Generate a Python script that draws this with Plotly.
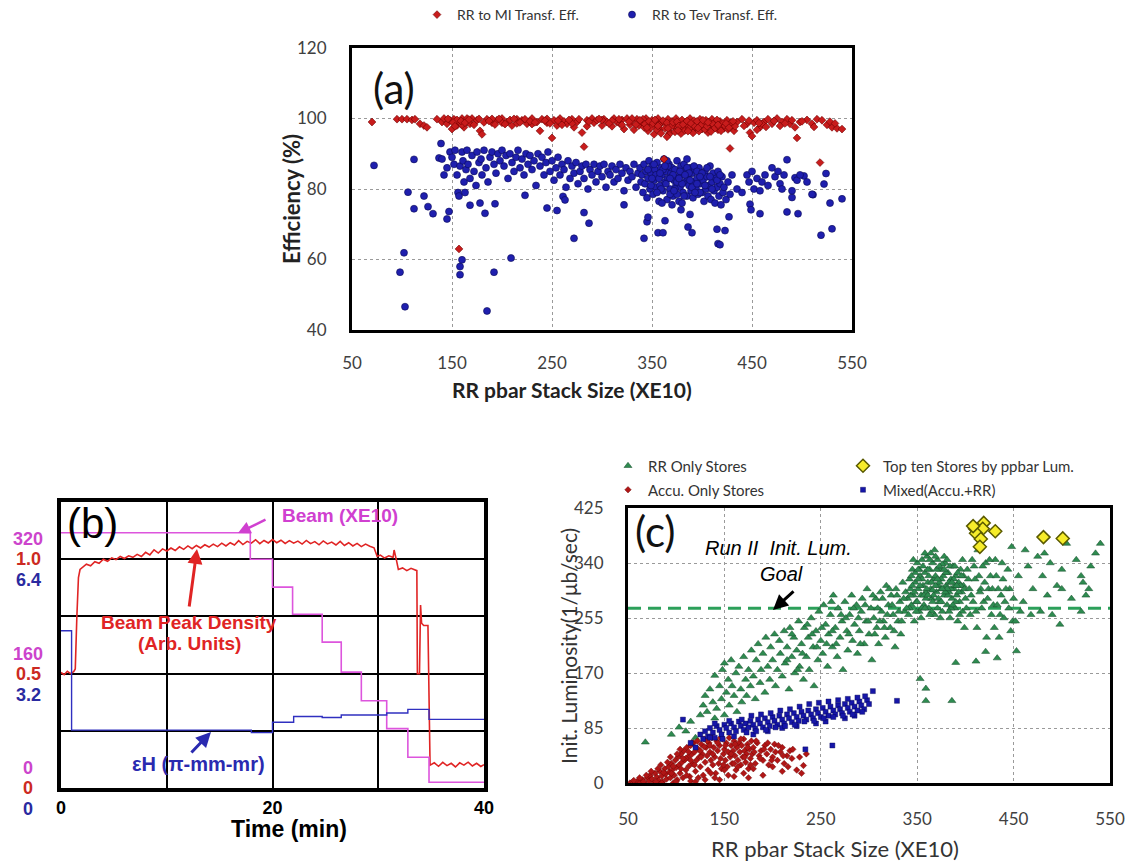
import plotly.graph_objects as go

# ---------------- Panel (a): transfer efficiencies vs RR stack size ----------------
mi_eff_pts = [
    (70, 99), (95, 99.8), (100, 99.8), (105, 99.8), (110, 99.6), (113, 99.8), (118, 98.5), (122, 98), (125, 97.5),
    (135, 99.8), (140, 99), (142, 100), (145, 98.5), (148, 99.5), (150, 97), (152, 99.8), (155, 98), (157, 99),
    (157, 63), (160, 100), (162, 97.5), (165, 99), (168, 98.5), (170, 100), (175, 99.5), (178, 96.5), (180, 95.5),
    (185, 99.8), (190, 98.8), (195, 99.5), (200, 100), (205, 99), (210, 98), (215, 99.8), (220, 99.5), (225, 98.5),
    (230, 100), (235, 99), (238, 96.5), (240, 99.8), (245, 98.8), (250, 94.5), (252, 99.5), (255, 98), (258, 100),
    (262, 99.2), (265, 98.5), (270, 99.8), (272, 97.5), (275, 99), (280, 96), (282, 92), (285, 99.5), (290, 100),
    (292, 98.8), (295, 99.5), (300, 98), (302, 99.8), (305, 99), (310, 97.8), (312, 100), (315, 99), (318, 98.5),
    (320, 99.6), (322, 97), (325, 100), (328, 98.2), (330, 99.4), (332, 96.8), (335, 99.8), (337, 98), (340, 99),
    (342, 97.5), (344, 100), (346, 96.5), (348, 98.8), (350, 99.5), (352, 95.5), (354, 98), (356, 100), (358, 97),
    (360, 99), (362, 88.5), (364, 98.5), (366, 99.8), (368, 96), (370, 99.2), (372, 97.8), (374, 100), (376, 98.5),
    (378, 96.8), (380, 99.6), (382, 97.2), (384, 99), (386, 98), (388, 100), (390, 96.5), (392, 99.4), (394, 97.5),
    (396, 98.8), (398, 99.8), (400, 97), (402, 98.5), (404, 99.5), (406, 96), (408, 98), (410, 99.8), (412, 97.6),
    (414, 98.8), (416, 96.8), (418, 99.2), (420, 98), (422, 97.2), (425, 99.5), (428, 91.5), (430, 98), (432, 96.5),
    (435, 99), (440, 99.8), (445, 98.5), (448, 96), (450, 95), (452, 98.8), (455, 99.5), (458, 97.5), (462, 99),
    (466, 99.8), (470, 98.5), (475, 100), (480, 99), (485, 99.8), (488, 98.5), (490, 99.5), (493, 97.5), (495, 94.5),
    (498, 99), (505, 99.6), (510, 98.5), (515, 99.8), (518, 87.5), (520, 99.5), (525, 98.2), (530, 97.5), (535, 97.2),
    (540, 97), (341, 99.8), (343, 98.4), (347, 99.2), (349, 97.4), (351, 98.6), (353, 99.6), (355, 96.8), (357, 98.2),
    (359, 95.8), (361, 99.4), (363, 97.2), (365, 98.8), (367, 95.5), (369, 97.6), (371, 98.9), (373, 96.2), (375, 99.1),
    (377, 97.9), (379, 95.7), (381, 98.3), (383, 96.6), (385, 99.3), (387, 97.1), (389, 98.6), (391, 95.9), (393, 97.7),
    (395, 99.2), (397, 96.4), (399, 98.1), (401, 99.5), (403, 96.9), (405, 97.8), (407, 99), (409, 96.3), (411, 98.4),
    (413, 97.3), (415, 99.6), (417, 97.7), (419, 96.5), (421, 98.6), (423, 97.9), (426, 96.9), (429, 98.8), (433, 97.8),
    (160, 98.2), (155, 99.6), (165, 100), (200, 98.8), (230, 98.4), (260, 98.2), (300, 99.6), (310, 99.4), (320, 98.2),
    (330, 100), (455, 96.8), (460, 98.5), (190, 99.9), (215, 98.6), (245, 99.9), (270, 98.6), (285, 97.8), (365, 94.8),
    (146, 99.9), (151, 98.9), (153, 97.8), (159, 99.3), (163, 98.8), (167, 99.7), (172, 98.2), (177, 99.9), (182, 98.9),
    (187, 99.3), (193, 98.3), (197, 99.9), (203, 98.4), (208, 99.6), (212, 99.9), (218, 98.9), (223, 99.8), (228, 99.2),
    (233, 98.9), (243, 99.4), (248, 98.6), (256, 99.4), (267, 99.6), (277, 99.8), (287, 99.1), (297, 99.9), (307, 98.6),
    (317, 99.8), (327, 99.1), (334, 98.3), (338, 99.5), (345, 97.4), (356, 97.9), (366, 97.2), (376, 96.6), (386, 96.4),
    (396, 97.3), (406, 98.9), (416, 98.2), (424, 98.6), (427, 97.4), (431, 99.2), (442, 97.9), (447, 99.4), (457, 98.7),
    (464, 97.6), (472, 99.3), (478, 97.9), (483, 98.6), (500, 99.2), (512, 97.6), (528, 99.1), (533, 98.6),
]

tev_eff_pts = [
    (72, 86.7), (102, 61.9), (98, 56.4), (103, 46.6), (106, 79.1), (112, 88.4), (112, 74.4), (122, 78), (126, 75),
    (131, 73), (139, 92.9), (137, 88.8), (145, 71.5), (147, 73.6), (158, 58), (158, 55.7), (160, 59.9), (185, 45.4),
    (192, 56.4), (209, 60.4), (168, 75.4), (178, 76), (183, 73.1), (193, 75.8), (223, 78.2), (245, 74.6), (255, 73.9),
    (261, 77.9), (263, 76.9), (272, 66), (282, 73.3), (287, 70.3), (322, 75.5), (342, 66), (345, 70.7), (346, 72),
    (356, 67.6), (361, 67.6), (363, 71), (379, 74.1), (386, 69.2), (390, 67.6), (388, 72.8), (415, 68.6), (416, 64.5),
    (418, 64.2), (423, 68.2), (427, 72.1), (448, 75.7), (449, 74.1), (458, 73), (485, 73.5), (496, 73), (490, 77.6),
    (502, 83.7), (511, 78.4), (519, 66.9), (522, 81.4), (524, 84.4), (528, 76), (530, 68.7), (540, 77.2), (482, 84),
    (485, 88.3), (493, 83.2), (478, 81.5),
    (140, 88.5), (142, 84), (145, 86), (148, 90.5), (150, 89), (152, 87), (153, 91), (155, 84), (156, 79), (157, 78),
    (158, 86.5), (160, 90.5), (161, 88), (162, 82), (163, 79), (164, 85.5), (165, 91), (166, 87), (168, 83), (170, 89.5),
    (172, 85), (174, 81), (175, 90.5), (177, 87.5), (179, 88.5), (180, 84), (182, 91), (184, 86), (186, 82), (188, 89),
    (190, 90.5), (192, 87), (194, 84.5), (196, 90), (198, 88), (200, 91), (202, 86.5), (204, 89.5), (206, 83), (208, 90),
    (210, 87.5), (212, 85), (214, 89), (216, 91), (218, 86), (220, 88.5), (222, 84), (224, 90), (226, 87), (228, 89.5),
    (230, 85.5), (232, 88), (234, 81), (236, 90), (238, 86.5), (240, 89), (242, 84), (244, 87.5), (246, 90.5), (248, 85),
    (250, 88), (252, 82.5), (254, 86), (256, 89), (258, 84), (260, 87), (262, 85.5), (264, 80.5), (266, 88), (268, 83),
    (270, 86.5), (272, 84.5), (274, 87.5), (276, 81.5), (278, 85), (280, 86.5), (282, 83), (284, 87), (286, 80),
    (288, 85.5), (290, 84), (292, 87), (294, 82), (296, 85), (298, 86.5), (300, 83.5), (302, 87), (304, 80.5), (306, 85),
    (308, 84), (310, 86.5), (312, 82), (314, 85.5), (316, 83), (318, 87), (320, 84.5), (322, 79.5), (324, 86),
    (326, 82.5), (328, 85), (330, 83.5), (332, 87), (334, 80.5), (336, 84.5),
    (338, 86), (339, 82), (340, 84), (341, 79), (342, 87), (343, 81.5), (344, 85), (345, 77.5), (346, 83), (347, 88),
    (348, 80), (349, 84.5), (350, 86.5), (351, 78.5), (352, 82.5), (353, 85.5), (354, 80.5), (355, 87.5), (356, 83.5),
    (357, 76.5), (358, 81), (359, 86), (360, 84), (361, 79.5), (362, 88.5), (363, 82), (364, 85), (365, 77), (366, 83),
    (367, 87), (368, 80), (369, 84.5), (370, 86), (371, 78), (372, 82.5), (373, 85.5), (374, 81), (375, 88), (376, 83.5),
    (377, 76.5), (378, 80.5), (379, 86.5), (380, 84), (381, 79), (382, 87), (383, 82), (384, 85), (385, 78), (386, 83),
    (387, 81), (388, 86), (389, 79.5), (390, 84.5), (391, 77.5), (392, 82), (393, 85.5), (394, 80), (395, 83),
    (396, 78.5), (397, 86), (398, 81.5), (399, 84), (400, 79), (401, 82.5), (402, 76.5), (403, 85), (404, 80),
    (405, 83.5), (406, 78), (407, 81), (408, 86.5), (409, 77), (410, 82), (411, 84.5), (412, 79.5), (413, 76), (414, 83),
    (415, 80.5), (416, 85), (417, 78), (418, 81.5), (419, 75.5), (420, 83.5), (421, 79), (422, 80.5), (424, 77),
    (426, 82), (428, 78.5), (430, 84),
    (346, 85.5), (349, 81), (352, 87), (354, 84), (357, 83), (359, 80), (361, 85.5), (364, 81.5), (366, 86.5),
    (368, 78.5), (371, 84), (373, 80), (375, 82), (378, 85), (380, 81.5), (382, 78), (385, 86), (387, 84.5), (390, 80.5),
    (392, 86.5), (395, 85), (398, 79), (360, 76), (370, 75.5), (380, 76), (355, 79), (365, 88), (385, 88.5), (375, 78.5),
    (395, 81.5), (400, 84.5), (405, 86), (410, 80), (415, 82.5), (418, 84), (350, 83), (358, 84.5), (363, 86.5),
    (368, 83), (372, 79.5), (377, 83), (383, 84), (388, 82.5), (393, 79), (398, 83.5), (403, 81), (408, 83.5),
    (435, 80), (440, 79), (445, 84), (447, 82), (450, 85), (452, 80), (455, 83), (458, 79.5), (460, 82), (463, 84),
    (466, 81), (470, 86), (473, 83.5), (476, 85), (480, 80), (490, 79.5), (495, 82.5), (498, 84), (505, 82), (510, 78.5),
]

# ---------------- Panel (b): time evolution during a transfer ----------------
beam_t = [0, 17.9, 20, 21.9, 24.7, 26.5, 28.4, 30.8, 32.8, 34.8, 40]
beam_xe10 = [357, 320, 281, 243, 204, 162, 122, 83, 43, 8, 8]

emit_t = [0, 1.0, 18, 20, 22, 24.7, 26.5, 30.8, 32.8, 34.8, 40]
emit_h = [4.4, 1.62, 1.55, 1.84, 2.0, 1.97, 2.04, 2.1, 2.2, 1.92, 1.92]

dens_t = [0, 0.3, 0.6, 0.9, 1.2, 1.35, 1.5, 1.65, 1.8,
          2.0, 2.4, 2.8, 3.2, 3.6, 4.0, 4.4, 4.8, 5.2, 5.6, 6.0, 6.4, 6.8, 7.2, 7.6, 8.0, 8.4, 8.8, 9.2, 9.6,
          10.0, 10.4, 10.8, 11.2, 11.6, 12.0, 12.4, 12.8, 13.2, 13.6, 14.0, 14.4, 14.8, 15.2, 15.6, 16.0, 16.4,
          16.8, 17.2, 17.6, 18.0, 18.4, 18.8, 19.2, 19.6, 20.0, 20.4, 20.8, 21.2, 21.6, 22.0, 22.4, 22.8, 23.2,
          23.6, 24.0, 24.4, 24.8, 25.2, 25.6, 26.0, 26.4, 26.8, 27.2, 27.6, 28.0, 28.4, 28.8, 29.2, 29.6, 29.9,
          30.2, 30.6, 31.0, 31.4, 31.5, 31.7, 31.9, 32.3, 32.7, 33.1, 33.5, 33.65, 33.7, 33.9, 34.0, 34.1, 34.3,
          34.7, 34.9, 35.3, 35.7, 36.1, 36.5, 36.9, 37.3, 37.7, 38.1, 38.5, 38.9, 39.3, 39.7, 40.0]
dens_val = [0.505, 0.495, 0.51, 0.50, 0.508, 0.52, 0.75, 0.92, 0.955,
            0.962, 0.978, 0.971, 0.989, 0.982, 1.000, 0.991, 1.006, 0.998, 1.012, 1.003, 1.015, 1.008, 1.021,
            1.012, 1.030, 1.019, 1.041, 1.027, 1.045, 1.036, 1.049, 1.038, 1.054, 1.043, 1.058, 1.046, 1.060,
            1.049, 1.063, 1.053, 1.066, 1.055, 1.070, 1.058, 1.072, 1.062, 1.081, 1.064, 1.078, 1.070, 1.085,
            1.068, 1.082, 1.071, 1.086, 1.072, 1.083, 1.069, 1.081, 1.070, 1.079, 1.066, 1.082, 1.068, 1.077,
            1.063, 1.080, 1.067, 1.075, 1.062, 1.078, 1.060, 1.072, 1.058, 1.069, 1.055, 1.066, 1.057, 1.050,
            1.012, 1.018, 1.005, 1.015, 1.008, 1.040, 1.000, 0.955, 0.962, 0.950, 0.960, 0.955, 0.950, 0.50,
            0.50, 0.80, 0.72, 0.71, 0.71, 0.10, 0.110, 0.095, 0.112, 0.098, 0.108, 0.092, 0.110, 0.100, 0.113,
            0.096, 0.108, 0.094, 0.102]

beam_ticks = [0, 160, 320]
dens_ticks = [0, 0.5, 1.0]
emit_ticks = [0, 3.2, 6.4]

# ---------------- Panel (c): initial luminosity vs RR stack size ----------------
lum_goal = 270

rr_only_pts = [
    (68, 63), (95, 75), (103, 86), (110, 80), (115, 95), (120, 70), (125, 105), (128, 120), (130, 135), (132, 110),
    (135, 145), (138, 125), (140, 166), (140, 100), (142, 115), (145, 150), (147, 130), (148, 175), (150, 185),
    (150, 105), (152, 140), (154, 160), (155, 120), (157, 190), (158, 150), (160, 135), (162, 170), (163, 110),
    (165, 180), (167, 145), (168, 125), (170, 195), (172, 160), (173, 135), (175, 175), (177, 150), (178, 205),
    (180, 165), (182, 130), (183, 190), (185, 215), (187, 155), (188, 175), (190, 200), (192, 140), (193, 225),
    (195, 180), (197, 160), (198, 210), (200, 190), (202, 230), (203, 150), (205, 175), (207, 220), (208, 200),
    (210, 165), (212, 235), (213, 185), (215, 210), (217, 145), (218, 240), (220, 195), (222, 225), (223, 170),
    (225, 205), (227, 250), (228, 180), (230, 215), (232, 160), (233, 240), (235, 195), (237, 225), (238, 175),
    (240, 255), (242, 210), (243, 150), (245, 235), (247, 190), (248, 265), (250, 220), (252, 200), (253, 275),
    (255, 245), (257, 180), (258, 230), (260, 260), (262, 210), (263, 290), (265, 240), (267, 195), (268, 270),
    (270, 225), (272, 250), (273, 175), (275, 280), (277, 235), (278, 205), (280, 260), (282, 290), (283, 220),
    (285, 245), (287, 275), (288, 200), (290, 235), (292, 265), (293, 285), (295, 215), (297, 250), (298, 300),
    (300, 230), (302, 270), (303, 190), (305, 255), (307, 285), (308, 240), (310, 215), (312, 295), (313, 265),
    (315, 250), (317, 225), (318, 305), (320, 275), (322, 240), (323, 290), (325, 260), (327, 210), (328, 300),
    (330, 250), (332, 280), (333, 230), (335, 310), (337, 265), (338, 295),
    (340, 285), (341, 260), (342, 315), (343, 300), (344, 275), (345, 330), (346, 290), (347, 250), (348, 310),
    (349, 280), (350, 340), (351, 300), (352, 265), (353, 320), (354, 290), (355, 345), (356, 305), (357, 275),
    (358, 325), (359, 295), (360, 350), (361, 310), (362, 270), (363, 330), (364, 300), (365, 285), (366, 340),
    (367, 315), (368, 260), (369, 320), (370, 295), (371, 345), (372, 305), (373, 280), (374, 330), (375, 300),
    (376, 265), (377, 320), (378, 290), (379, 340), (380, 305), (381, 275), (382, 325), (383, 295), (384, 255),
    (385, 315), (386, 285), (387, 335), (388, 300), (389, 270), (390, 320), (391, 290), (392, 250), (393, 310),
    (394, 280), (395, 330), (396, 295), (397, 265), (398, 305), (399, 240), (400, 285),
    (345, 305), (350, 280), (352, 330), (355, 315), (357, 290), (360, 300), (362, 320), (365, 310), (367, 290),
    (370, 330), (372, 285), (375, 315), (377, 300), (380, 325), (382, 290), (385, 300), (388, 315), (390, 280),
    (393, 295), (395, 305), (358, 355), (368, 360), (378, 350), (348, 325), (363, 345), (373, 310), (383, 310),
    (353, 305), (343, 290), (398, 320), (355, 270), (365, 265), (375, 280), (385, 270), (347, 295), (359, 285),
    (369, 305), (379, 295), (389, 305), (361, 330), (371, 315), (381, 300), (351, 315), (366, 298), (376, 338),
    (342, 270), (344, 320), (346, 345), (349, 265), (351, 330), (354, 255), (356, 335), (358, 270), (361, 290),
    (363, 260), (364, 355), (366, 280), (369, 350), (371, 270), (373, 335), (374, 255), (376, 300), (378, 330),
    (381, 345), (383, 265), (384, 335), (386, 310), (387, 275), (389, 335), (391, 305), (392, 325), (394, 260),
    (396, 320), (397, 345), (399, 300), (401, 270), (403, 315), (406, 290), (409, 335), (411, 265), (414, 320),
    (416, 300), (419, 280), (421, 340), (424, 300), (426, 320), (429, 275), (431, 345), (434, 300), (436, 260),
    (439, 315), (441, 280), (444, 330), (446, 300), (449, 250),
    (262, 235), (266, 215), (271, 260), (276, 255), (279, 230), (284, 270), (289, 255), (291, 215), (296, 275),
    (299, 250), (304, 290), (306, 230), (309, 270), (311, 250), (314, 285), (316, 240), (319, 260), (321, 300),
    (324, 275), (326, 235), (329, 290), (331, 265), (334, 250), (336, 285), (339, 270), (215, 190), (220, 230),
    (226, 175), (231, 200), (236, 245), (241, 230), (246, 210), (251, 240), (256, 215), (261, 280),
    (402, 330), (404, 300), (405, 260), (407, 345), (408, 280), (410, 315), (412, 240), (413, 360), (415, 295),
    (417, 270), (418, 335), (420, 310), (422, 225), (423, 285), (425, 345), (427, 260), (428, 300), (430, 240),
    (432, 320), (433, 275), (435, 225), (437, 290), (438, 340), (440, 255), (442, 300), (445, 270), (447, 235),
    (450, 285), (452, 250), (455, 320), (457, 265), (460, 280), (465, 335), (468, 260), (470, 300), (475, 350),
    (478, 265), (480, 320), (485, 290), (488, 340), (490, 260), (495, 305), (498, 245), (500, 330), (505, 370),
    (510, 285), (515, 345), (520, 265), (522, 310), (525, 290), (528, 300), (530, 335), (535, 355), (540, 370),
    (500, 300), (482, 355), (462, 360), (448, 365), (520, 320),
    (353, 161), (359, 146), (359, 127), (386, 127), (390, 186), (411, 188), (433, 193), (453, 204), (421, 203),
]

accu_only_pts = [
    (52, 0), (55, 2), (58, 0), (60, 3), (63, 1), (65, 5), (67, 0), (70, 8), (72, 3), (73, 12), (75, 6), (77, 0),
    (78, 15), (80, 9), (82, 4), (83, 18), (85, 11), (86, 2), (88, 22), (89, 14), (90, 6), (92, 25), (93, 17), (94, 8),
    (95, 30), (96, 20), (97, 0), (98, 12), (99, 35), (100, 24), (101, 5), (102, 40), (103, 28), (104, 15), (105, 45),
    (106, 32), (107, 8), (108, 50), (109, 36), (110, 20), (111, 55), (112, 40), (113, 26), (114, 10), (115, 58),
    (116, 44), (117, 30), (118, 62), (119, 48), (120, 18), (121, 35), (122, 65), (123, 52), (124, 40), (125, 25),
    (126, 60), (127, 45), (128, 12), (129, 68), (130, 32), (131, 55), (132, 42), (133, 20), (134, 62), (135, 48),
    (136, 35), (137, 70), (138, 28), (139, 55), (140, 40), (141, 15), (142, 65), (143, 50), (144, 30), (145, 58),
    (146, 38), (147, 22), (148, 68), (149, 45), (150, 52), (151, 35), (152, 62), (153, 25), (154, 48), (155, 70),
    (156, 40), (157, 58), (158, 30), (159, 50), (160, 65), (161, 42), (162, 20), (163, 55), (164, 35), (165, 62),
    (166, 48), (167, 28), (168, 58), (169, 40), (170, 68), (171, 50), (172, 32), (173, 45), (174, 60), (175, 22),
    (176, 52), (177, 38), (178, 65), (179, 45), (180, 55), (182, 30), (184, 62), (186, 42), (188, 50), (190, 35),
    (192, 58), (194, 45), (196, 28), (198, 52), (200, 40), (202, 60), (205, 35), (208, 48), (210, 55), (212, 30),
    (215, 42), (218, 50), (220, 38), (225, 20), (232, 27), (235, 45), (190, 12), (175, 8), (160, 10), (145, 5),
    (130, 5), (115, 3), (100, 2), (85, 0), (120, 2), (140, 8), (110, 38), (125, 50), (135, 58), (95, 15), (105, 22),
    (115, 35), (150, 20), (160, 30), (170, 15), (180, 22), (200, 25), (210, 18),
    (56, 4), (62, 8), (66, 2), (69, 12), (74, 18), (79, 2), (81, 22), (84, 28), (87, 16), (91, 32), (94, 40), (97, 26),
    (101, 45), (104, 52), (107, 38), (111, 12), (113, 48), (116, 62), (119, 28), (123, 8), (126, 40), (129, 56),
    (132, 65), (136, 15), (138, 45), (143, 62), (146, 70), (149, 28), (151, 58), (154, 12), (157, 45), (161, 60),
    (164, 25), (167, 68), (171, 40), (174, 55), (177, 28), (181, 48), (183, 65), (187, 38), (191, 52), (195, 62),
    (199, 35), (203, 48), (206, 58), (211, 42), (216, 25), (221, 52), (228, 40), (230, 15),
]

mixed_pts = [
    (107, 98), (115, 62), (120, 55), (125, 75), (128, 68), (130, 80), (133, 72), (135, 85), (138, 78), (140, 70),
    (142, 88), (145, 82), (147, 75), (150, 90), (152, 85), (155, 78), (157, 92), (160, 86), (162, 80), (165, 95),
    (167, 88), (170, 82), (172, 92), (175, 86), (177, 96), (180, 90), (182, 84), (185, 98), (187, 92), (190, 86),
    (192, 100), (195, 94), (197, 88), (200, 102), (202, 96), (205, 90), (207, 104), (210, 98), (212, 92), (215, 106),
    (217, 100), (220, 94), (222, 108), (225, 102), (227, 96), (230, 110), (232, 104), (234, 52), (235, 98), (237, 112),
    (240, 106), (242, 100), (245, 114), (247, 108), (250, 102), (252, 116), (255, 110), (258, 104), (260, 118),
    (262, 58), (263, 112), (265, 106), (268, 120), (270, 114), (272, 108), (275, 122), (278, 116), (280, 110),
    (282, 124), (285, 118), (288, 112), (290, 126), (292, 120), (295, 114), (298, 128), (300, 122), (304, 142),
    (329, 127), (245, 92), (255, 95), (275, 100), (285, 104), (180, 75), (195, 80), (210, 85), (225, 88),
    (135, 70), (140, 92), (148, 68), (155, 96), (160, 72), (168, 98), (173, 78), (178, 104), (183, 80), (188, 106),
    (193, 82), (198, 108), (203, 86), (208, 112), (213, 88), (218, 114), (223, 90), (228, 118), (233, 95), (238, 122),
    (243, 96), (248, 124), (253, 100), (258, 126), (263, 102), (268, 128), (273, 104), (278, 130), (283, 106),
    (288, 132), (293, 110), (296, 134),
]

top_ten_pts = [(419, 402), (410, 393), (418, 393), (431, 389), (411, 386), (416, 377), (415, 365), (408, 397),
               (481, 380), (501, 378)]

# ---------------- layout helpers (pixel -> paper) ----------------
W, H = 1130, 863


def px(v):
    return v / W


def py(v):
    return 1 - v / H


def xs(pts):
    return [p[0] for p in pts]


def ys(pts):
    return [p[1] for p in pts]


CAL = "Lato, 'Open Sans', sans-serif"
ARB = "'Liberation Sans', Arial, sans-serif"

fig = go.Figure()

# (a)
fig.add_trace(go.Scatter(x=xs(tev_eff_pts), y=ys(tev_eff_pts), mode="markers", name="RR to Tev Transf. Eff.",
                         xaxis="x", yaxis="y", legend="legend2",
                         marker=dict(symbol="circle", size=7, color="#1f1fae", line=dict(width=0.6, color="#0a0a55"))))
fig.add_trace(go.Scatter(x=xs(mi_eff_pts), y=ys(mi_eff_pts), mode="markers", name="RR to MI Transf. Eff.",
                         xaxis="x", yaxis="y", legend="legend",
                         marker=dict(symbol="diamond", size=6, color="#c81c1c", line=dict(width=0.6, color="#700000"))))

# (b)
fig.add_trace(go.Scatter(x=beam_t, y=beam_xe10, mode="lines", line=dict(color="#dd55dd", width=1.6, shape="hv"),
                         xaxis="x2", yaxis="y3", showlegend=False, name="Beam (XE10)"))
fig.add_trace(go.Scatter(x=emit_t, y=emit_h, mode="lines", line=dict(color="#3030c0", width=1.4, shape="hv"),
                         xaxis="x2", yaxis="y4", showlegend=False, name="εH (π-mm-mr)"))
fig.add_trace(go.Scatter(x=dens_t, y=dens_val, mode="lines", line=dict(color="#e02424", width=1.6),
                         xaxis="x2", yaxis="y2", showlegend=False, name="Beam Peak Density"))

# (c)
fig.add_trace(go.Scatter(x=[50, 550], y=[lum_goal, lum_goal], mode="lines", showlegend=False,
                         line=dict(color="#2ca05a", width=3, dash="13px,7px"), xaxis="x3", yaxis="y5"))
fig.add_trace(go.Scatter(x=xs(rr_only_pts), y=ys(rr_only_pts), mode="markers", name="RR Only Stores",
                         xaxis="x3", yaxis="y5", legend="legend3",
                         marker=dict(symbol="triangle-up", size=7, color="#2e8b50", line=dict(width=0.5, color="#174d2a"))))
fig.add_trace(go.Scatter(x=xs(accu_only_pts), y=ys(accu_only_pts), mode="markers", name="Accu. Only Stores",
                         xaxis="x3", yaxis="y5", legend="legend4",
                         marker=dict(symbol="diamond", size=5, color="#b01616", line=dict(width=0.4, color="#600000"))))
fig.add_trace(go.Scatter(x=xs(mixed_pts), y=ys(mixed_pts), mode="markers", name="Mixed(Accu.+RR)",
                         xaxis="x3", yaxis="y5", legend="legend6",
                         marker=dict(symbol="square", size=5, color="#1616a8", line=dict(width=0.4, color="#000050"))))
fig.add_trace(go.Scatter(x=xs(top_ten_pts), y=ys(top_ten_pts), mode="markers", name="Top ten Stores by ppbar Lum.",
                         xaxis="x3", yaxis="y5", legend="legend5",
                         marker=dict(symbol="diamond", size=10, color="#f6ec2a", line=dict(width=1.5, color="#5a5a00"))))

box = dict(showline=True, linecolor="black", mirror=True, zeroline=False, ticks="")
lgd_a = dict(xanchor="left", yanchor="middle", bgcolor="rgba(0,0,0,0)", borderwidth=0,
             font=dict(family=CAL, size=14, color="#333333"))
lgd_c = dict(xanchor="left", yanchor="middle", bgcolor="rgba(0,0,0,0)", borderwidth=0,
             font=dict(family=CAL, size=15, color="#333333"))

fig.update_layout(
    width=W, height=H, margin=dict(l=0, r=0, t=0, b=0, autoexpand=False),
    paper_bgcolor="white", plot_bgcolor="white",
    xaxis=dict(domain=[px(352), px(852)], range=[50, 550], anchor="y", tickvals=[50, 150, 250, 350, 450, 550],
               showgrid=True, gridcolor="#9a9a9a", griddash="dot", gridwidth=1, linewidth=3,
               tickfont=dict(family=CAL, size=17, color="#404040"), ticklabelstandoff=16, **box),
    yaxis=dict(domain=[py(330), py(48)], range=[40, 120], anchor="x", tickvals=[40, 60, 80, 100, 120],
               showgrid=True, gridcolor="#9a9a9a", griddash="dot", gridwidth=1, linewidth=3,
               tickfont=dict(family=CAL, size=17, color="#404040"), ticklabelstandoff=19, **box),
    xaxis2=dict(domain=[px(61), px(484)], range=[0, 40], anchor="y2", tickvals=[0, 10, 20, 30, 40],
                ticktext=["0", "", "20", "", "40"], showgrid=True, gridcolor="black", gridwidth=1.5, linewidth=4,
                tickfont=dict(family=ARB, size=18, color="black", weight="bold"), ticklabelstandoff=0, **box),
    yaxis2=dict(domain=[py(788), py(502)], range=[0, 1.25], anchor="x2", tickvals=[0.25, 0.5, 0.75, 1.0],
                showticklabels=False, showgrid=True, gridcolor="black", gridwidth=1.5, linewidth=4, **box),
    yaxis3=dict(overlaying="y2", range=[0, 400], anchor="x2", visible=False),
    yaxis4=dict(overlaying="y2", range=[0, 8], anchor="x2", visible=False),
    xaxis3=dict(domain=[px(628), px(1110)], range=[50, 550], anchor="y5", tickvals=[50, 150, 250, 350, 450, 550],
                showgrid=True, gridcolor="#9a9a9a", griddash="dot", gridwidth=1, linewidth=3,
                tickfont=dict(family=CAL, size=17, color="#404040"), ticklabelstandoff=19, **box),
    yaxis5=dict(domain=[py(783), py(508)], range=[0, 425], anchor="x3", tickvals=[0, 85, 170, 255, 340, 425],
                showgrid=True, gridcolor="#9a9a9a", griddash="dot", gridwidth=1, linewidth=3,
                tickfont=dict(family=CAL, size=17, color="#404040"), ticklabelstandoff=18, **box),
    legend=dict(x=px(457 - 40), y=py(15), **lgd_a),
    legend2=dict(x=px(652 - 40), y=py(15), **lgd_a),
    legend3=dict(x=px(648 - 40), y=py(466), **lgd_c),
    legend4=dict(x=px(648 - 40), y=py(490), **lgd_c),
    legend5=dict(x=px(883 - 40), y=py(466), **lgd_c),
    legend6=dict(x=px(883 - 40), y=py(490), **lgd_c),
)

ann = []


def text(x, y, s, size, color="black", family=CAL, bold=False, italic=False, angle=0, xref="paper", yref="paper",
         yshift=0):
    ann.append(dict(x=x, y=y, xref=xref, yref=yref, text=s, showarrow=False, textangle=angle, yshift=yshift,
                    xanchor="center", yanchor="middle",
                    font=dict(family=family, size=size, color=color, weight="bold" if bold else "normal",
                              style="italic" if italic else "normal")))


def arrow(head, tail, color, width):
    ann.append(dict(x=px(head[0]), y=py(head[1]), xref="paper", yref="paper", text="", showarrow=True,
                    ax=tail[0] - head[0], ay=tail[1] - head[1], arrowhead=2, arrowsize=1, arrowwidth=width,
                    arrowcolor=color))


# (a) texts
text(px(394), py(88), "(a)", 42, color="#111111")
text(px(572), py(389), "RR pbar Stack Size (XE10)", 21, color="#222222", bold=True)
text(px(291), py(199), "Efficiency (%)", 22, color="#222222", bold=True, angle=-90)

# (b) texts
text(px(92), py(523), "(b)", 42, family=ARB)
text(px(289), py(829), "Time (min)", 23, family=ARB, bold=True)
text(px(340), py(515), "Beam (XE10)", 19, color="#d040d0", family=ARB, bold=True)
text(px(189), py(622), "Beam Peak Density", 19, color="#e02424", family=ARB, bold=True)
text(px(189), py(643), "(Arb. Units)", 19, color="#e02424", family=ARB, bold=True)
text(px(198), py(764), "εH (π-mm-mr)", 20, color="#2a2ab0", family=ARB, bold=True)
arrow((238, 533), (267, 519), "#d040d0", 2.5)
arrow((197, 549), (189, 608), "#e02424", 3)
arrow((211, 732), (190, 754), "#2a2ab0", 3)
for v in beam_ticks:
    text(px(28), v, str(v), 18, color="#cc44cc", family=ARB, bold=True, yref="y3", yshift=20)
for v in dens_ticks:
    text(px(28), v, "0" if v == 0 else f"{v:.1f}", 18, color="#cc2a22", family=ARB, bold=True, yref="y2")
for v in emit_ticks:
    text(px(28), v, "0" if v == 0 else f"{v:.1f}", 18, color="#2a2aa0", family=ARB, bold=True, yref="y4", yshift=-21)

# (c) texts
text(px(655), py(531), "(c)", 42, color="#111111")
text(px(778), py(548), "Run II  Init. Lum.", 20, family=ARB, italic=True)
text(px(781), py(574), "Goal", 20, family=ARB, italic=True)
arrow((773, 610), (795, 590), "black", 3)
text(px(835), py(848), "RR pbar Stack Size (XE10)", 22, color="#333333")
text(px(568), py(646), "Init. Luminosity(1/μb/sec)", 21, color="#333333", angle=-90)

fig.update_layout(annotations=ann)
fig.write_html("out.html", config={"displayModeBar": False},
               post_script="document.body.style.margin='0';document.body.style.overflow='hidden';")
